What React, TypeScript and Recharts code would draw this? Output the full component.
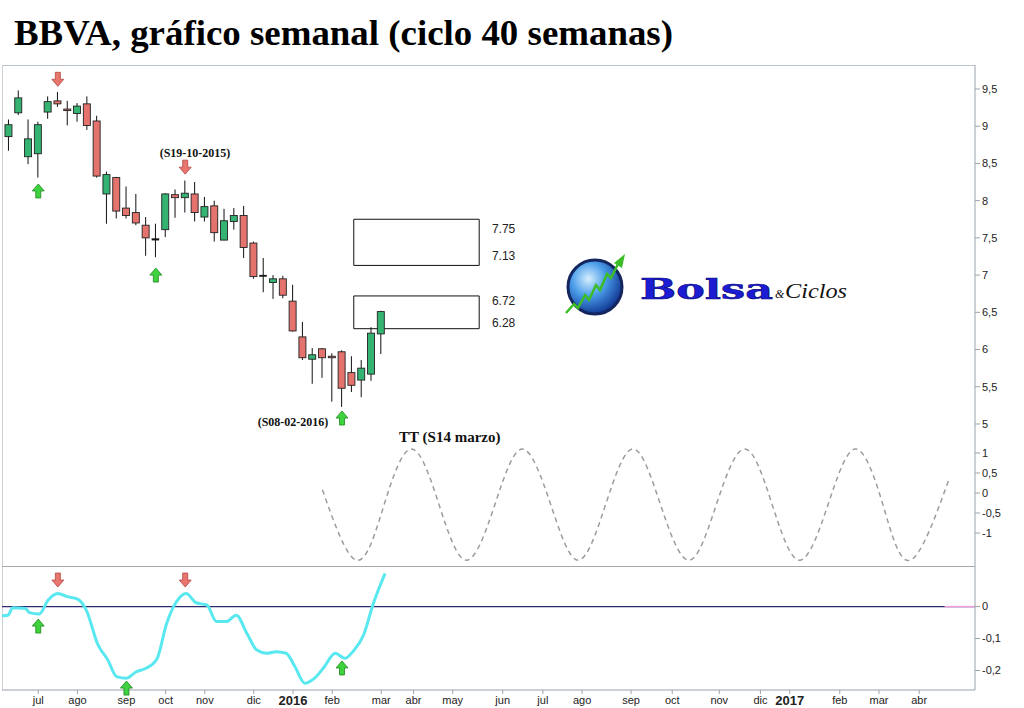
import React from 'react';
import { ComposedChart, Bar, Line, Scatter, XAxis, YAxis, ReferenceArea, ReferenceLine } from 'recharts';

// semanas (0 = 15-06-2015)
const weeks = [0, 1, 2, 3, 4, 5, 6, 7, 8, 9, 10, 11, 12, 13, 14, 15, 16, 17, 18, 19, 20, 21, 22, 23, 24, 25, 26, 27, 28, 29, 30, 31, 32, 33, 34, 35, 36, 37, 38];
const opens = [8.86, 9.18, 8.59, 8.63, 9.19, 9.34, 9.23, 9.17, 9.30, 9.07, 8.09, 8.31, 7.90, 7.84, 7.67, 7.49, 7.61, 8.08, 8.04, 8.09, 7.78, 7.93, 7.47, 7.72, 7.80, 7.43, 7.00, 6.90, 6.95, 6.65, 6.17, 5.87, 6.01, 5.91, 5.97, 5.69, 5.59, 5.67, 6.21];
const highs = [9.09, 9.48, 9.09, 9.06, 9.40, 9.46, 9.34, 9.31, 9.40, 9.14, 8.39, 8.32, 8.19, 8.09, 7.78, 7.69, 8.10, 8.15, 8.27, 8.25, 8.05, 8.00, 7.89, 7.90, 7.93, 7.45, 7.23, 7.00, 6.99, 6.87, 6.37, 6.02, 6.02, 5.95, 5.99, 5.91, 5.86, 6.30, 6.52];
const lows = [8.67, 9.15, 8.49, 8.31, 9.10, 9.26, 9.01, 9.06, 8.95, 8.31, 7.69, 7.76, 7.76, 7.67, 7.26, 7.24, 7.51, 7.77, 7.84, 7.72, 7.72, 7.45, 7.47, 7.61, 7.23, 6.95, 6.77, 6.68, 6.69, 6.24, 5.86, 5.54, 5.62, 5.30, 5.23, 5.43, 5.36, 5.58, 5.94];
const closes = [9.02, 9.38, 8.83, 9.02, 9.33, 9.30, 9.21, 9.27, 9.01, 8.33, 8.35, 7.86, 7.80, 7.70, 7.50, 7.49, 8.09, 8.04, 8.10, 7.84, 7.92, 7.57, 7.73, 7.80, 7.37, 6.98, 7.00, 6.95, 6.73, 6.25, 5.89, 5.93, 5.89, 5.89, 5.48, 5.52, 5.75, 6.22, 6.51];

// ciclo teórico (línea discontinua)
const sineWeeks = [32.0, 35.5, 38.3, 41.1, 43.9, 46.7, 49.6, 52.4, 55.3, 58.1, 60.9, 63.7, 66.5, 69.4, 72.2, 75.1, 77.9, 80.7, 83.6, 86.4, 89.2, 92.0, 96.0];
const sineValues = [0.08, -1.68, -0.29, 1.1, -0.29, -1.68, -0.29, 1.1, -0.29, -1.68, -0.29, 1.1, -0.29, -1.68, -0.29, 1.1, -0.29, -1.68, -0.29, 1.1, -0.29, -1.68, 0.38];

// oscilador
const oscWeeks = [-0.7, -0.1, 0.4, 1.7, 2.1, 3.1, 4.0, 5.0, 6.0, 7.1, 7.9, 9.1, 10.1, 11.0, 12.0, 13.0, 14.0, 15.1, 16.1, 17.1, 18.1, 19.1, 20.2, 21.2, 22.2, 23.2, 24.3, 25.3, 26.3, 27.3, 28.3, 29.2, 30.2, 31.2, 32.2, 33.3, 34.3, 35.1, 36.2, 37.2, 38.4];
const oscValues = [-0.029, -0.027, -0.004, -0.006, -0.019, -0.023, 0.020, 0.041, 0.031, 0.022, -0.011, -0.120, -0.167, -0.219, -0.224, -0.204, -0.193, -0.165, -0.053, 0.015, 0.041, 0.012, 0.005, -0.047, -0.047, -0.027, -0.084, -0.136, -0.146, -0.141, -0.146, -0.188, -0.240, -0.224, -0.188, -0.146, -0.162, -0.141, -0.089, 0.010, 0.104];

// flechas
const priceDownWeeks = [5, 18];
const priceDownAt = [9.63, 8.45];
const priceUpWeeks = [3, 15, 34];
const priceUpAt = [8.13, 7.0, 5.08];
const oscDownWeeks = [5, 18];
const oscDownAt = [0.083, 0.083];
const oscUpWeeks = [3, 12, 34];
const oscUpAt = [-0.061, -0.255, -0.192];

// notas
const noteTexts = ['(S19-10-2015)', '(S08-02-2016)', 'TT (S14 marzo)'];
const noteWeeks = [19.0, 29.0, 45.0];
const noteAt = [8.64, 5.03, 4.83];

// zonas objetivo
const boxFrom = 35.2;
const boxTo = 48.0;
const boxTops = [7.75, 6.72];
const boxBottoms = [7.13, 6.28];
const levelTexts = ['7.75', '7.13', '6.72', '6.28'];
const levelAt = [7.62, 7.26, 6.65, 6.35];
const levelWeek = 49.3;

const monthTicks = [3, 7, 12, 16, 20, 25, 29, 33, 38, 41.3, 45.3, 50.4, 54.5, 58.5, 63.5, 67.7, 72.5, 76.7, 79.7, 84.8, 88.8, 92.9];
const monthLabels = ['jul', 'ago', 'sep', 'oct', 'nov', 'dic', '2016', 'feb', 'mar', 'abr', 'may', 'jun', 'jul', 'ago', 'sep', 'oct', 'nov', 'dic', '2017', 'feb', 'mar', 'abr'];

const priceTicks = [5, 5.5, 6, 6.5, 7, 7.5, 8, 8.5, 9, 9.5];
const sineTicks = [1, 0.5, 0, -0.5, -1];
const oscTicks = [0, -0.1, -0.2];

const candles = weeks.map((i, k) => ({ i, o: opens[k], h: highs[k], l: lows[k], c: closes[k], range: [lows[k], highs[k]] }));
const sineData = sineWeeks.map((i, k) => ({ i, v: sineValues[k] }));
const oscData = oscWeeks.map((i, k) => ({ i, v: oscValues[k] }));
const pts = (ws: number[], ys: number[]) => ws.map((i, k) => ({ i, y: ys[k] }));
const notes = noteTexts.map((text, k) => ({ i: noteWeeks[k], y: noteAt[k], text, size: k === 2 ? 15 : 12 }));
const levels = levelTexts.map((text, k) => ({ i: levelWeek, y: levelAt[k], text }));

const X_DOMAIN = [-0.7, 98.6];
const AXIS = '#9aa3ab';
const SANS = 'Liberation Sans, Arial, sans-serif';
const SERIF = 'Liberation Serif, Times New Roman, serif';
const comma = (v: number) => String(v).replace('.', ',');

const Candle = (props: any) => {
  const { x, y, width, height, payload } = props;
  const { o, h, l, c } = payload;
  const top = Math.min(y, y + height);
  const bot = Math.max(y, y + height);
  const k = h - l > 0 ? (bot - top) / (h - l) : 0;
  const yOf = (v: number) => top + (h - v) * k;
  const cx = x + width / 2;
  const yo = yOf(o);
  const yc = yOf(c);
  const doji = Math.abs(o - c) < 0.005;
  const fill = doji ? '#111' : c > o ? '#34b372' : '#e4726d';
  return (
    <g>
      <line x1={cx} x2={cx} y1={top} y2={bot} stroke="#111" strokeWidth={1} />
      <rect x={cx - 3.5} y={Math.min(yo, yc)} width={7} height={Math.max(Math.abs(yo - yc), 1.5)} fill={fill} stroke="#222" strokeWidth={doji ? 0.5 : 0.9} />
    </g>
  );
};

const DownArrow = ({ cx, cy }: any) => (
  <polygon
    points={`${cx - 2.5},${cy - 7} ${cx + 2.5},${cy - 7} ${cx + 2.5},${cy} ${cx + 6},${cy} ${cx},${cy + 7} ${cx - 6},${cy} ${cx - 2.5},${cy}`}
    fill="#e8766f" stroke="#b2453f" strokeWidth={0.8}
  />
);

const UpArrow = ({ cx, cy }: any) => (
  <polygon
    points={`${cx - 2.5},${cy + 7} ${cx + 2.5},${cy + 7} ${cx + 2.5},${cy} ${cx + 6},${cy} ${cx},${cy - 7} ${cx - 6},${cy} ${cx - 2.5},${cy}`}
    fill="#3fd23f" stroke="#1d871d" strokeWidth={0.8}
  />
);

const NoteText = ({ cx, cy, payload }: any) => (
  <text x={cx} y={cy} textAnchor="middle" dominantBaseline="central" fontFamily={SERIF} fontWeight="bold" fontSize={payload.size} fill="#111">
    {payload.text}
  </text>
);

const LevelText = ({ cx, cy, payload }: any) => (
  <text x={cx} y={cy} dominantBaseline="central" fontFamily={SANS} fontSize={12} fill="#222">
    {payload.text}
  </text>
);

const MonthTick = ({ x, y, payload }: any) => {
  const label = monthLabels[monthTicks.indexOf(payload.value)] ?? '';
  const year = /^\d/.test(label);
  return (
    <text x={x} y={y + (year ? 9 : 8)} textAnchor="middle" fontFamily={SANS} fontSize={year ? 13 : 11} fontWeight={year ? 'bold' : 'normal'} fill="#222">
      {label}
    </text>
  );
};

const yAxisProps = {
  orientation: 'right' as const,
  width: 45,
  axisLine: { stroke: AXIS },
  tickLine: { stroke: AXIS },
  tickSize: 5,
  tickMargin: 2,
  tick: { fontSize: 11, fill: '#222', fontFamily: SANS },
  tickFormatter: comma,
  interval: 0 as const,
};

const layer = (top: number): React.CSSProperties => ({ position: 'absolute', left: 0, top });

const Decor = () => (
  <svg width={1024} height={708} style={{ position: 'absolute', left: 0, top: 0 }}>
    <defs>
      <radialGradient id="globe" cx="38%" cy="35%" r="70%">
        <stop offset="0" stopColor="#d6efff" />
        <stop offset="0.45" stopColor="#4a9de9" />
        <stop offset="1" stopColor="#0c2f8c" />
      </radialGradient>
    </defs>
    <text x={14} y={45} fontFamily={SERIF} fontWeight="bold" fontSize={36} fill="#000" textLength={659} lengthAdjust="spacingAndGlyphs">
      BBVA, gráfico semanal (ciclo 40 semanas)
    </text>
    <line x1={2} x2={975} y1={65.5} y2={65.5} stroke="#b9c3cb" />
    <line x1={2.5} x2={2.5} y1={65} y2={690} stroke="#c9d0d6" />
    <line x1={2} x2={975} y1={566.5} y2={566.5} stroke="#a8a8a8" />
    <circle cx={595} cy={287} r={27} fill="url(#globe)" stroke="#14265f" strokeWidth={3} />
    <polyline points="566,313 574,304 578,308 585,295 589,300 596,285 600,290 607,274 611,278 619,262" fill="none" stroke="#3cbd28" strokeWidth={2.5} />
    <polygon points="614,263 625,254 622,268" fill="#3cbd28" />
    <text x={640} y={299} fontFamily="DejaVu Serif, serif" fontWeight="bold" fontSize={27} fill="#1c1cd4" stroke="#0b0b7a" strokeWidth={0.6} textLength={133} lengthAdjust="spacingAndGlyphs">
      Bolsa
    </text>
    <text x={775} y={298} fontFamily={SERIF} fontStyle="italic" fontSize={12} fill="#111">&amp;</text>
    <text x={785} y={298} fontFamily={SERIF} fontStyle="italic" fontSize={22} fill="#111" textLength={62} lengthAdjust="spacingAndGlyphs">
      Ciclos
    </text>
  </svg>
);

export default function App() {
  return (
    <div style={{ position: 'absolute', left: 0, top: 0, width: 1024, height: 708, background: '#fff', overflow: 'hidden' }}>
      <Decor />

      <div style={layer(0)}>
        <ComposedChart width={1024} height={460} data={candles} margin={{ top: 65, right: 4, bottom: 20, left: 2 }}>
          <XAxis type="number" dataKey="i" domain={X_DOMAIN} hide />
          <YAxis {...yAxisProps} type="number" domain={[4.785, 9.822]} ticks={priceTicks} />
          {boxTops.map((t, k) => (
            <ReferenceArea key={k} x1={boxFrom} x2={boxTo} y1={boxBottoms[k]} y2={t} fill="#fff" fillOpacity={0} stroke="#111" strokeWidth={1} />
          ))}
          <Bar dataKey="range" barSize={7} shape={Candle} isAnimationActive={false} />
          <Scatter data={pts(priceDownWeeks, priceDownAt)} dataKey="y" shape={DownArrow} isAnimationActive={false} />
          <Scatter data={pts(priceUpWeeks, priceUpAt)} dataKey="y" shape={UpArrow} isAnimationActive={false} />
          <Scatter data={notes} dataKey="y" shape={NoteText} isAnimationActive={false} />
          <Scatter data={levels} dataKey="y" shape={LevelText} isAnimationActive={false} />
        </ComposedChart>
      </div>

      <div style={layer(0)}>
        <ComposedChart width={1024} height={580} data={sineData} margin={{ top: 440, right: 4, bottom: 14, left: 2 }}>
          <XAxis type="number" dataKey="i" domain={X_DOMAIN} hide />
          <YAxis {...yAxisProps} type="number" domain={[-1.825, 1.325]} ticks={sineTicks} />
          <Line type="natural" dataKey="v" stroke="#9c9c9c" strokeWidth={1.5} strokeDasharray="5 4" dot={false} isAnimationActive={false} />
        </ComposedChart>
      </div>

      <div style={layer(0)}>
        <ComposedChart width={1024} height={708} data={oscData} margin={{ top: 566, right: 4, bottom: 0, left: 2 }}>
          <XAxis
            type="number"
            dataKey="i"
            domain={X_DOMAIN}
            ticks={monthTicks}
            interval={0}
            height={18}
            tickSize={4}
            tickMargin={2}
            axisLine={{ stroke: AXIS }}
            tickLine={{ stroke: AXIS }}
            tick={MonthTick}
          />
          <YAxis {...yAxisProps} type="number" domain={[-0.261, 0.127]} ticks={oscTicks} />
          <ReferenceLine y={0} stroke="#2b2b6e" strokeWidth={1.2} />
          <ReferenceLine segment={[{ x: 95.5, y: 0 }, { x: 98.6, y: 0 }]} stroke="#f0a0e0" strokeWidth={1.5} />
          <Line type="monotone" dataKey="v" stroke="#5ae8f0" strokeWidth={3} dot={false} isAnimationActive={false} />
          <Scatter data={pts(oscDownWeeks, oscDownAt)} dataKey="y" shape={DownArrow} isAnimationActive={false} />
          <Scatter data={pts(oscUpWeeks, oscUpAt)} dataKey="y" shape={UpArrow} isAnimationActive={false} />
        </ComposedChart>
      </div>
    </div>
  );
}
